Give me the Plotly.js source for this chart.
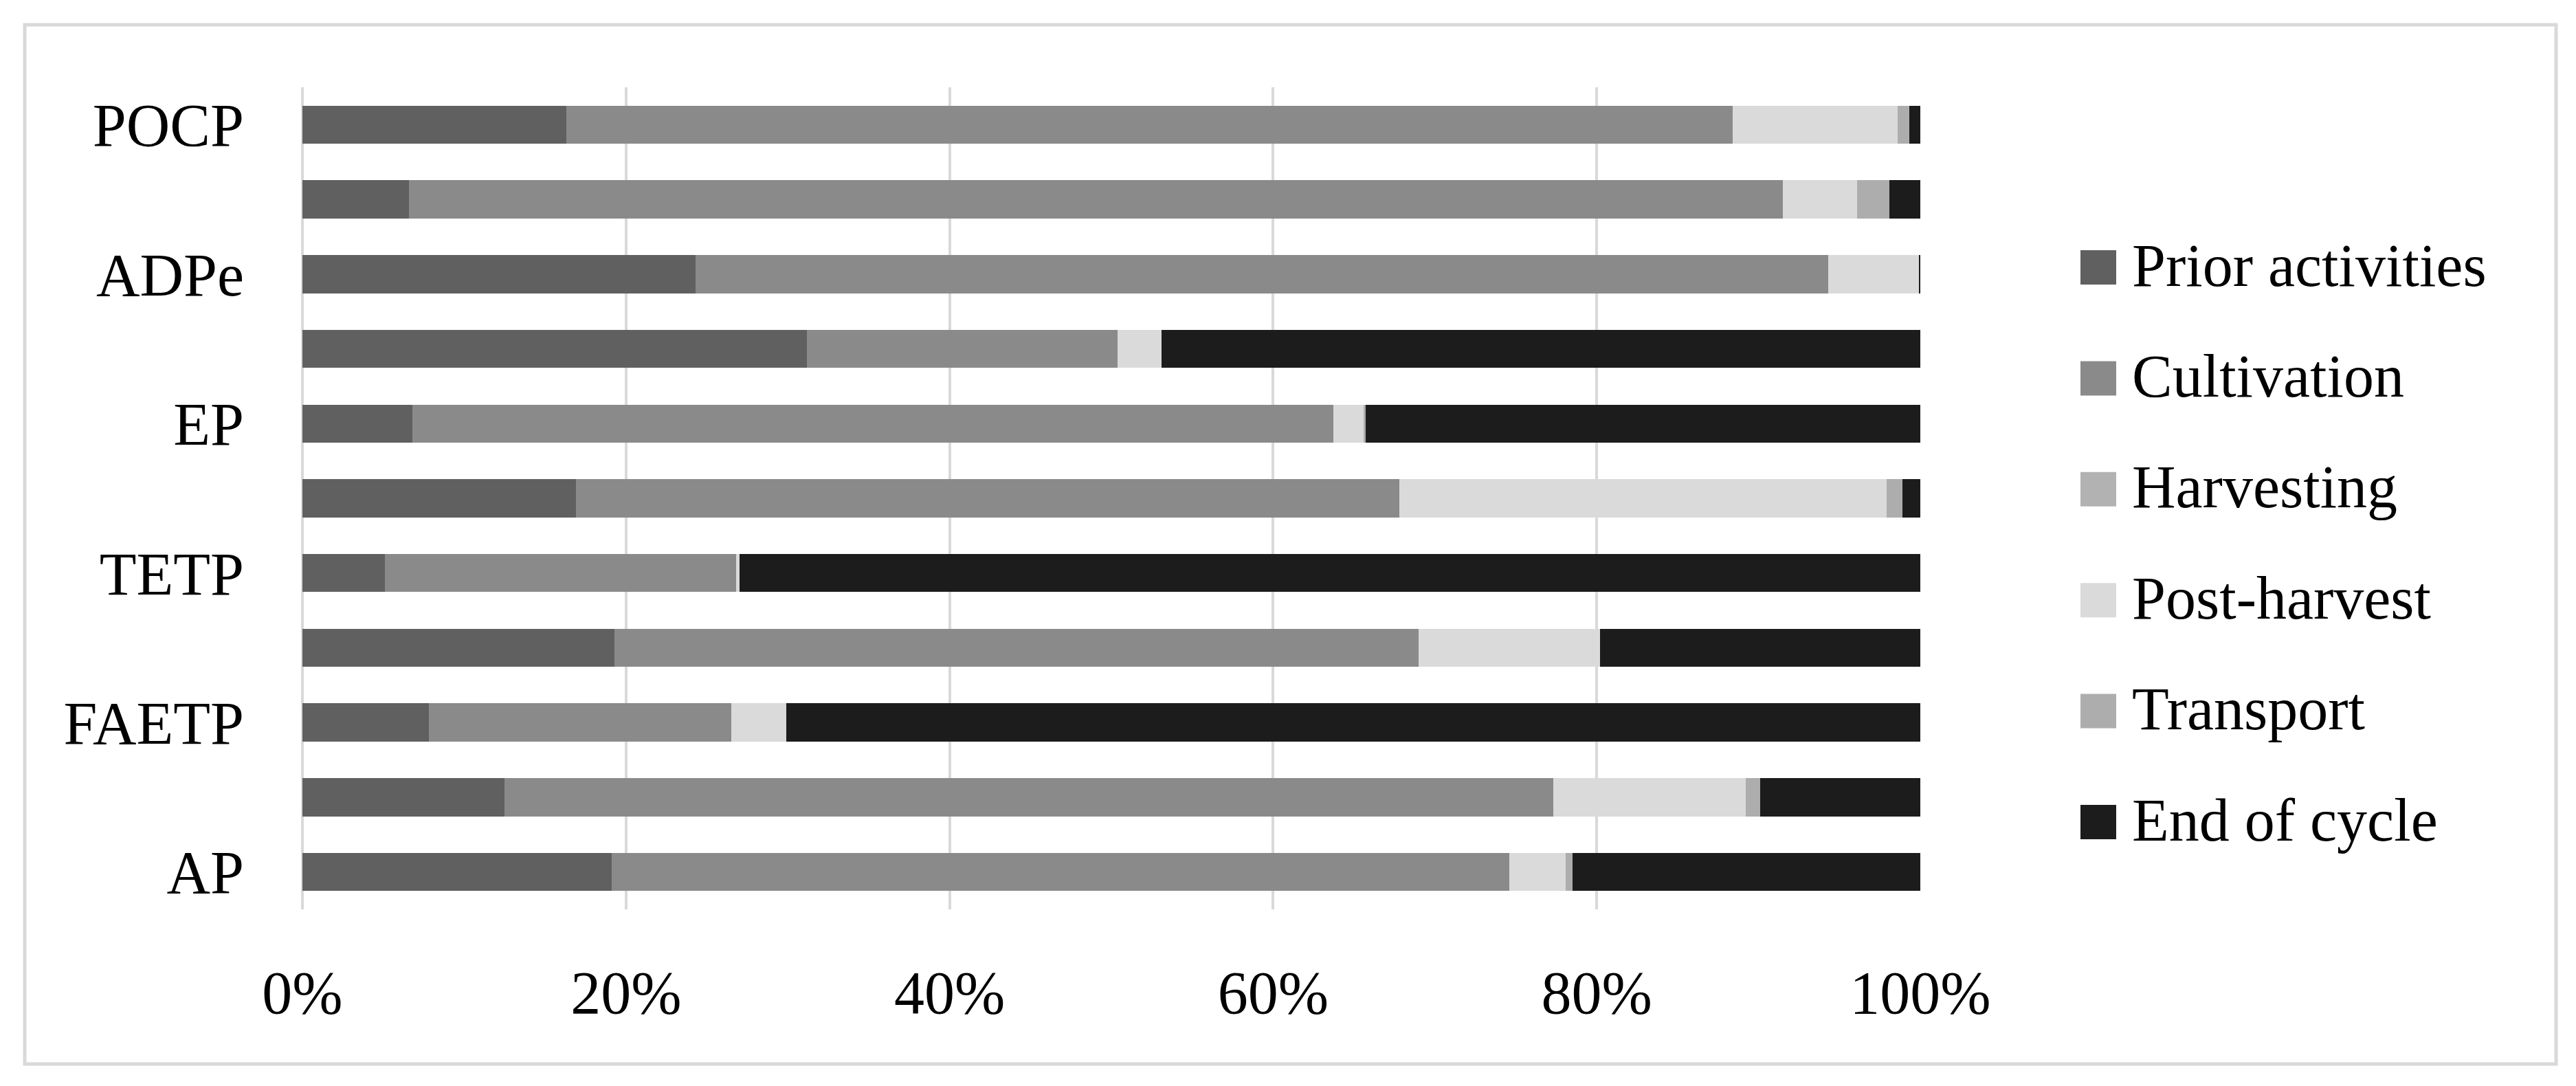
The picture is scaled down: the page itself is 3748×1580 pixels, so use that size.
<!DOCTYPE html>
<html>
<head>
<meta charset="utf-8">
<script src="https://cdn.plot.ly/plotly-3.0.1.min.js"></script>
<style>
  html, body { margin: 0; padding: 0; background: #ffffff; }
  #chart { width: 3748px; height: 1580px; }
</style>
</head>
<body>
<div id="chart"></div>
<script>
// Impact categories, bottom to top (only every other one is labelled in the figure)
const categories = ["AP", "GWP", "FAETP", "HTP", "TETP", "MAETP", "EP", "ODP", "ADPe", "ADPf", "POCP"];
const labelledCategories = ["AP", "FAETP", "TETP", "EP", "ADPe", "POCP"];

// Contribution (%) of each life-cycle stage, same order as categories
const priorActivities = [19.1, 12.5, 7.8, 19.3, 5.1, 16.9, 6.8, 31.2, 24.3, 6.6, 16.3];
const cultivation     = [55.5, 64.8, 18.7, 49.7, 21.7, 50.9, 56.9, 19.2, 70.0, 84.9, 72.1];
const harvesting      = [0, 0, 0, 0, 0, 0, 0, 0, 0, 0, 0];
const postHarvest     = [3.5, 11.9, 3.4, 11.2, 0.2, 30.1, 1.9, 2.7, 5.6, 4.6, 10.2];
const transport       = [0.4, 0.9, 0, 0, 0, 1.0, 0.1, 0, 0, 2.0, 0.7];
const endOfCycle      = [21.5, 9.9, 70.1, 19.8, 73.0, 1.1, 34.3, 46.9, 0.1, 1.9, 0.7];

const seriesNames  = ["Prior activities", "Cultivation", "Harvesting", "Post-harvest", "Transport", "End of cycle"];
const seriesValues = [priorActivities, cultivation, harvesting, postHarvest, transport, endOfCycle];
const seriesColors = ["#606060", "#8a8a8a", "#b2b2b2", "#dadada", "#adadad", "#1c1c1c"];

const xTicks = [0, 20, 40, 60, 80, 100];

const FONT = "Liberation Serif, Times New Roman, serif";

// plot-area geometry (pixels)
const W = 3748, H = 1580;
const M = { l: 440, r: 954, t: 127, b: 257 };
const PW = W - M.l - M.r, PH = H - M.t - M.b;
const px2x = p => (p - M.l) / PW;
const px2y = p => (H - M.b - p) / PH;

const traces = seriesNames.map((name, i) => ({
  type: "bar",
  orientation: "h",
  name: name,
  y: categories,
  x: seriesValues[i],
  marker: { color: seriesColors[i], line: { width: 0 } },
  showlegend: false,
  hoverinfo: "name+x"
}));

// outer frame
const shapes = [{
  type: "rect", xref: "paper", yref: "paper",
  x0: px2x(36), x1: px2x(3719), y0: px2y(1548), y1: px2y(36),
  line: { color: "#d9d9d9", width: 5 }, fillcolor: "rgba(0,0,0,0)", layer: "below"
}];
const annotations = [];

// legend (large square swatches like the original)
seriesNames.forEach((name, i) => {
  const cy = 389 + i * 161.4;
  shapes.push({
    type: "rect", xref: "paper", yref: "paper",
    x0: px2x(3027), x1: px2x(3079), y0: px2y(cy + 25), y1: px2y(cy - 25),
    line: { width: 0 }, fillcolor: seriesColors[i]
  });
  annotations.push({
    xref: "paper", yref: "paper", x: px2x(3100), y: px2y(cy - 3),
    xanchor: "left", yanchor: "middle", showarrow: false,
    text: name, font: { family: FONT, size: 88, color: "#000000" }
  });
});

const layout = {
  width: W, height: H,
  margin: M,
  paper_bgcolor: "#ffffff",
  plot_bgcolor: "#ffffff",
  barmode: "stack",
  bargap: 0.49,
  showlegend: false,
  font: { family: FONT, size: 88, color: "#000000" },
  xaxis: {
    range: [0, 100],
    tickvals: xTicks,
    ticktext: xTicks.map(v => v + "%"),
    showgrid: true, gridcolor: "#d9d9d9", gridwidth: 4,
    zeroline: true, zerolinecolor: "#d9d9d9", zerolinewidth: 4,
    showline: false, ticks: "",
    ticklabelstandoff: 62,
    tickfont: { family: FONT, size: 88, color: "#000000" },
    fixedrange: true
  },
  yaxis: {
    type: "category",
    categoryorder: "array", categoryarray: categories,
    range: [-0.5, categories.length - 0.5],
    tickvals: labelledCategories,
    ticktext: labelledCategories,
    showgrid: false, zeroline: false, showline: false, ticks: "",
    ticklabelstandoff: 84,
    tickfont: { family: FONT, size: 88, color: "#000000" },
    fixedrange: true
  },
  shapes: shapes,
  annotations: annotations
};

Plotly.newPlot("chart", traces, layout, { displayModeBar: false, staticPlot: true });
</script>
</body>
</html>
